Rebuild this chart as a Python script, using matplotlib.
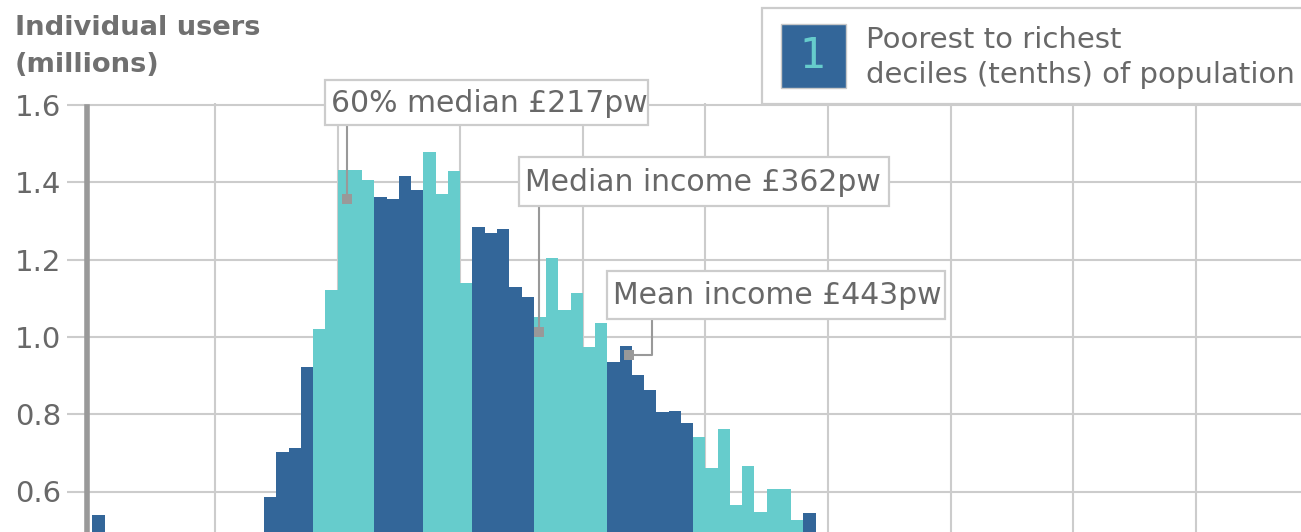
"""Income distribution histogram: individuals by weekly income band, coloured by decile."""

import matplotlib

matplotlib.use("Agg")
import matplotlib.pyplot as plt
from matplotlib.patches import Rectangle

# --- data -------------------------------------------------------------------
# Individuals (millions) per £10pw income band, starting at £0-10pw.
# Bands below ~0.5m fall outside the visible window and are rough estimates.
users = [
    0.54,
    0.10, 0.09, 0.11, 0.13, 0.16, 0.19, 0.22, 0.25, 0.28, 0.31,
    0.35, 0.40, 0.46,
    0.587, 0.703, 0.712, 0.921,
    1.020, 1.121, 1.432, 1.432, 1.406,
    1.363, 1.356, 1.417, 1.380,
    1.479, 1.371, 1.430, 1.139,
    1.285, 1.268, 1.278, 1.128, 1.104,
    1.052, 1.203, 1.070, 1.113, 0.975, 1.035,
    0.936, 0.976, 0.901, 0.863, 0.806, 0.809, 0.776,
    0.742, 0.660, 0.761, 0.565, 0.666, 0.548, 0.606, 0.606, 0.526,
    0.544, 0.48, 0.46, 0.45, 0.43, 0.42, 0.40, 0.39, 0.37, 0.36,
    0.34, 0.33, 0.31, 0.30, 0.29, 0.27, 0.26, 0.25, 0.24, 0.23,
    0.22, 0.21, 0.20, 0.19, 0.18, 0.17, 0.16, 0.15, 0.15, 0.14,
]
BAND_WIDTH = 10
band_lower = [BAND_WIDTH * i for i in range(len(users))]

# Upper income edge (£pw) of deciles 1..9
decile_upper = [180, 230, 270, 310, 360, 420, 490, 580, 700]

ann_labels = ["60% median £217pw", "Median income £362pw", "Mean income £443pw"]
ann_x = [208, 364, 438]
ann_y = [1.357, 1.012, 0.953]

y_ticks = [0.6, 0.8, 1.0, 1.2, 1.4, 1.6]
x_grid = [100, 200, 300, 400, 500, 600, 700, 800, 900]

# --- styling ----------------------------------------------------------------
DARK = "#336699"
TEAL = "#66cccc"
GRID = "#cccccc"
AXIS = "#999999"
TEXT = "#686868"
FS = 21.5

W, H = 1301, 532
fig = plt.figure(figsize=(W / 100, H / 100), dpi=100)


def fx(px):
    return px / W


def fy(py):
    return 1 - py / H


# pixel <-> data mapping of the plot window
PX0, PXS = 92.4, 1.226   # pixel column of £0, pixels per £
PY0, PYS = 105.0, 386.5  # pixel row of 1.6m, pixels per million


def x_of(px):
    return (px - PX0) / PXS


def y_of(py):
    return 1.6 - (py - PY0) / PYS


AX_LEFT, AX_TOP = 87, 103
ax = fig.add_axes([fx(AX_LEFT), 0, 1 - fx(AX_LEFT), (H - AX_TOP) / H])
ax.set_xlim(x_of(AX_LEFT), x_of(W))
ax.set_ylim(y_of(H), y_of(AX_TOP))

colors = []
for lower in band_lower:
    decile = sum(lower >= cut for cut in decile_upper)
    colors.append(DARK if decile % 2 == 0 else TEAL)
ax.bar(band_lower, users, width=BAND_WIDTH, align="edge", color=colors,
       linewidth=0, zorder=2)

ax.set_yticks(y_ticks)
ax.set_yticklabels([f"{v:.1f}" for v in y_ticks])
ax.set_xticks(x_grid)
ax.tick_params(axis="x", bottom=False, labelbottom=False)
ax.tick_params(axis="y", length=14.4, width=1.5, color=GRID, pad=4.3,
               labelsize=21, labelcolor=TEXT)
ax.grid(True, color=GRID, linewidth=1.5, zorder=0)
ax.set_axisbelow(True)
for side in ("top", "right", "bottom"):
    ax.spines[side].set_visible(False)
ax.spines["left"].set_color(AXIS)
ax.spines["left"].set_linewidth(4)
ax.spines["left"].set_bounds(y_of(H), y_of(107))

# --- annotation boxes with leader lines -------------------------------------
boxes = [(325, 80, 648, 125), (519, 157, 889, 206), (607, 271, 945, 319)]
for label, (left, top, right, bottom) in zip(ann_labels, boxes):
    fig.add_artist(Rectangle((fx(left), fy(bottom)), fx(right) - fx(left),
                             fy(top) - fy(bottom), transform=fig.transFigure,
                             facecolor="white", edgecolor=GRID, linewidth=1.6,
                             zorder=3))
    fig.text(fx(left + 6), fy((top + bottom) / 2 + 1), label, ha="left",
             va="center", fontsize=FS, color=TEXT, zorder=4)

lead = dict(color=AXIS, linewidth=1.5, clip_on=False, zorder=4)
ax.plot([ann_x[0], ann_x[0]], [y_of(boxes[0][3]), ann_y[0]], **lead)
ax.plot([ann_x[1], ann_x[1]], [y_of(boxes[1][3]), ann_y[1]], **lead)
elbow_x = x_of(652)
ax.plot([elbow_x, elbow_x, ann_x[2]], [y_of(boxes[2][3]), ann_y[2], ann_y[2]], **lead)
ax.plot(ann_x, ann_y, "s", markersize=6.5, color=AXIS, markeredgewidth=0,
        clip_on=False, zorder=5)

# --- y-axis title -------------------------------------------------------------
fig.text(fx(15), fy(35), "Individual users", fontsize=19.7, fontweight="bold",
         color="#707070", va="baseline", ha="left")
fig.text(fx(15), fy(72), "(millions)", fontsize=19.7, fontweight="bold",
         color="#707070", va="baseline", ha="left")

# --- legend -------------------------------------------------------------------
fig.add_artist(Rectangle((fx(762), fy(104)), fx(1320) - fx(762), fy(8) - fy(104),
                         transform=fig.transFigure, facecolor="white",
                         edgecolor=GRID, linewidth=1.6, zorder=3))
fig.add_artist(Rectangle((fx(781), fy(88)), fx(846) - fx(781), fy(24) - fy(88),
                         transform=fig.transFigure, facecolor=DARK,
                         edgecolor="#c8c8c8", linewidth=1, zorder=4))
fig.text(fx(813), fy(56), "1", fontsize=30, color=TEAL, ha="center",
         va="center", zorder=5)
fig.text(fx(866), fy(48), "Poorest to richest", fontsize=21, color=TEXT,
         ha="left", va="baseline", zorder=5)
fig.text(fx(866), fy(83), "deciles (tenths) of population", fontsize=21,
         color=TEXT, ha="left", va="baseline", zorder=5)

fig.savefig("out.png", dpi=100)
